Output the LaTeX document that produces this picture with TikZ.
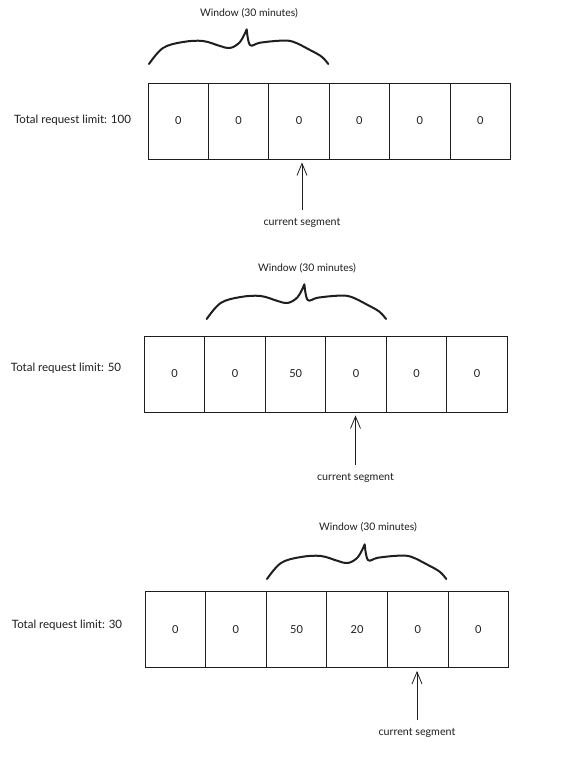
\documentclass[tikz,border=0pt]{standalone}
\usepackage{fontspec}
\setmainfont{Lato}
\usetikzlibrary{arrows.meta}
\definecolor{ink}{HTML}{1E1E1E}
\begin{document}
\begin{tikzpicture}[x=1pt,y=-1pt,
  cell/.style={draw=ink,line width=0.9pt,minimum width=60.5pt,minimum height=76pt,inner sep=0pt,font=\fontsize{11}{13}\selectfont,text=ink},
  lbl/.style={font=\fontsize{11.5}{13}\selectfont,text=ink,inner sep=0pt},
  winlbl/.style={font=\fontsize{10.4}{12}\selectfont,text=ink,inner sep=0pt},
  seglbl/.style={font=\fontsize{10.7}{12}\selectfont,text=ink,inner sep=0pt},
  arr/.style={draw=ink,line width=0.8pt,-{Straight Barb[length=12pt,width=10pt]},shorten >=3pt,shorten <=8pt},
  bracestyle/.style={draw=ink,line width=2pt,line cap=round,line join=round},
  winbrace/.pic={
    \draw[bracestyle] plot[smooth,tension=0.6] coordinates {(0,0) (14,-16) (34,-22) (54,-23) (71,-18) (81,-16) (91,-22) (97.7,-34.7)}
      -- plot[smooth,tension=0.6] coordinates {(97.7,-34.7) (101,-19) (111,-21.3) (131,-23.3) (144,-22.3) (161,-14) (172.7,-7.3) (179.3,0)};
  }
]
\fill[white] (0,0) rectangle (580,772);
\useasboundingbox (0,0) rectangle (580,772);

% Panel 1
\node[lbl] (l1) at (72.5,120) {Total request limit: 100};
\foreach \v [count=\i] in {0,0,0,0,0,0}
  \node[cell] (a\i) at ({148+60.4*(\i-0.5)},121) {\v};
\pic (b1) at (149,64) {winbrace};
\node[winlbl] (w1) at (249,13.5) {Window (30 minutes)};
\node[seglbl] (s1) at (302,223) {current segment};
\draw[arr] (s1.north) -- (s1.north |- a3.south);

% Panel 2
\node[lbl] (l2) at (66,368) {Total request limit: 50};
\foreach \v [count=\i] in {0,0,50,0,0,0}
  \node[cell] (b\i) at ({144.4+60.5*(\i-0.5)},374) {\v};
\pic (br2) at (206.7,319) {winbrace};
\node[winlbl] (w2) at (307,268) {Window (30 minutes)};
\node[seglbl] (s2) at (355.5,478) {current segment};
\draw[arr] (s2.north) -- (s2.north |- b4.south);

% Panel 3
\node[lbl] (l3) at (67,625) {Total request limit: 30};
\foreach \v [count=\i] in {0,0,50,20,0,0}
  \node[cell] (c\i) at ({145+60.6*(\i-0.5)},629.5) {\v};
\pic (br3) at (267,579) {winbrace};
\node[winlbl] (w3) at (368,527) {Window (30 minutes)};
\node[seglbl] (s3) at (417,733) {current segment};
\draw[arr] (s3.north) -- (s3.north |- c5.south);
\end{tikzpicture}
\end{document}
